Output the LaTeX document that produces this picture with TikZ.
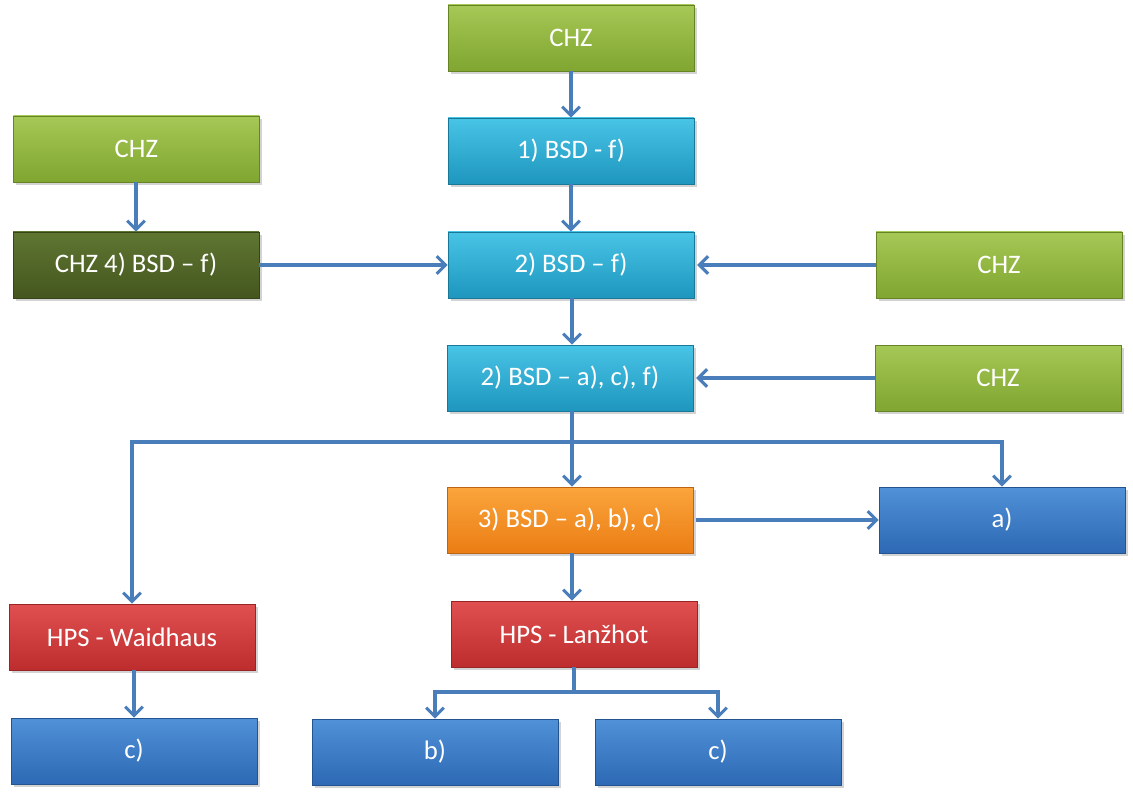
\documentclass[tikz,border=0pt]{standalone}
\usepackage{fontspec}
\setmainfont{Carlito}
\usetikzlibrary{arrows.meta,shadows}

\definecolor{grnT}{RGB}{166,200,86}
\definecolor{grnB}{RGB}{128,165,48}
\definecolor{oliT}{RGB}{95,118,50}
\definecolor{oliB}{RGB}{68,86,30}
\definecolor{cyaT}{RGB}{72,196,230}
\definecolor{cyaB}{RGB}{30,150,190}
\definecolor{bluT}{RGB}{80,145,215}
\definecolor{bluB}{RGB}{45,105,180}
\definecolor{oraT}{RGB}{250,165,60}
\definecolor{oraB}{RGB}{235,125,20}
\definecolor{redT}{RGB}{225,80,80}
\definecolor{redB}{RGB}{190,45,45}
\definecolor{linkblue}{RGB}{74,126,187}

\begin{document}
\begin{tikzpicture}[>={Straight Barb[length=2.2mm,width=4.4mm]}]
                \tikzset{
                    box/.style 2 args={minimum width=6.15cm, minimum height=1.65cm, inner sep=0pt,
                        top color=#1, bottom color=#2, draw=#2!80!black, line width=0.5pt,
                        text=white, font=\fontsize{19}{23}\selectfont,
                        drop shadow={shadow xshift=0.07cm, shadow yshift=-0.07cm, opacity=0.35}},
                    chzbox/.style={box={grnT}{grnB}},
                    chzold/.style={box={oliT}{oliB}},
                    bsdbox/.style={box={cyaT}{cyaB}},
                    bsdlast/.style={box={oraT}{oraB}},
                    hpsbox/.style={box={redT}{redB}},
                    endbox/.style={box={bluT}{bluB}},
                    link/.style={draw=linkblue, line width=2.2pt}
                }
                \useasboundingbox (0,0) rectangle (28.325,-19.9);
                % central column
                \node[chzbox] (chzA) at (14.275,-0.95) {CHZ};
                \node[bsdbox] (bsdA) at (14.275,-3.775) {1) BSD - f)};
                \node[bsdbox] (bsdB) at (14.275,-6.625) {2) BSD -- f)};
                \node[bsdbox] (bsdC) at (14.25,-9.45) {2) BSD -- a), c), f)};
                \node[bsdlast] (bsdD) at (14.25,-13) {3) BSD -- a), b), c)};
                \node[hpsbox] (hpsL) at (14.35,-15.85) {HPS - Lanžhot};
                % left column
                \node[chzbox] (chzB) at (3.41,-3.725) {CHZ};
                \node[chzold] (chzE) at (3.4,-6.625) {CHZ 4) BSD -- f)};
                \node[hpsbox] (hpsW) at (3.3,-15.925) {HPS - Waidhaus};
                \node[endbox] (endC) at (3.35,-18.775) {c)};
                % right column
                \node[chzbox] (chzC) at (24.975,-6.625) {CHZ};
                \node[chzbox] (chzD) at (24.95,-9.45) {CHZ};
                \node[endbox] (endA) at (25.05,-13) {a)};
                % bottom
                \node[endbox] (endB) at (10.875,-18.8) {b)};
                \node[endbox] (endD) at (17.95,-18.8) {c)};
                \coordinate (splitA) at (14.3,-11.05);
                \coordinate (splitB) at (14.35,-17.3);
                % connectors
                \draw[link,->] (chzA) -- (bsdA);
                \draw[link,->] (bsdA) -- (bsdB);
                \draw[link,->] (bsdB.south -| splitA) -- (bsdC.north -| splitA);
                \draw[link,->] (chzB.south -| chzE) -- (chzE);
                \draw[link,->] (chzE) -- (bsdB);
                \draw[link,->] (chzC) -- ([xshift=2pt]bsdB.east);
                \draw[link,->] (chzD) -- ([xshift=2pt]bsdC.east);
                \draw[link] (bsdC.south -| splitA) -- (splitA);
                \draw[link,->] (splitA) -- (bsdD.north -| splitA);
                \draw[link,->] (splitA) -| (hpsW);
                \draw[link,->] (splitA) -| (endA);
                \draw[link,->] ([xshift=2pt]bsdD.east) -- (endA);
                \draw[link,->] (hpsW.south -| endC) -- (endC);
                \draw[link,->] (bsdD.south -| splitA) -- (hpsL.north -| splitA);
                \draw[link] (hpsL) -- (splitB);
                \draw[link,->] (splitB) -| (endB);
                \draw[link,->] (splitB) -| (endD);
            \end{tikzpicture}
\end{document}
